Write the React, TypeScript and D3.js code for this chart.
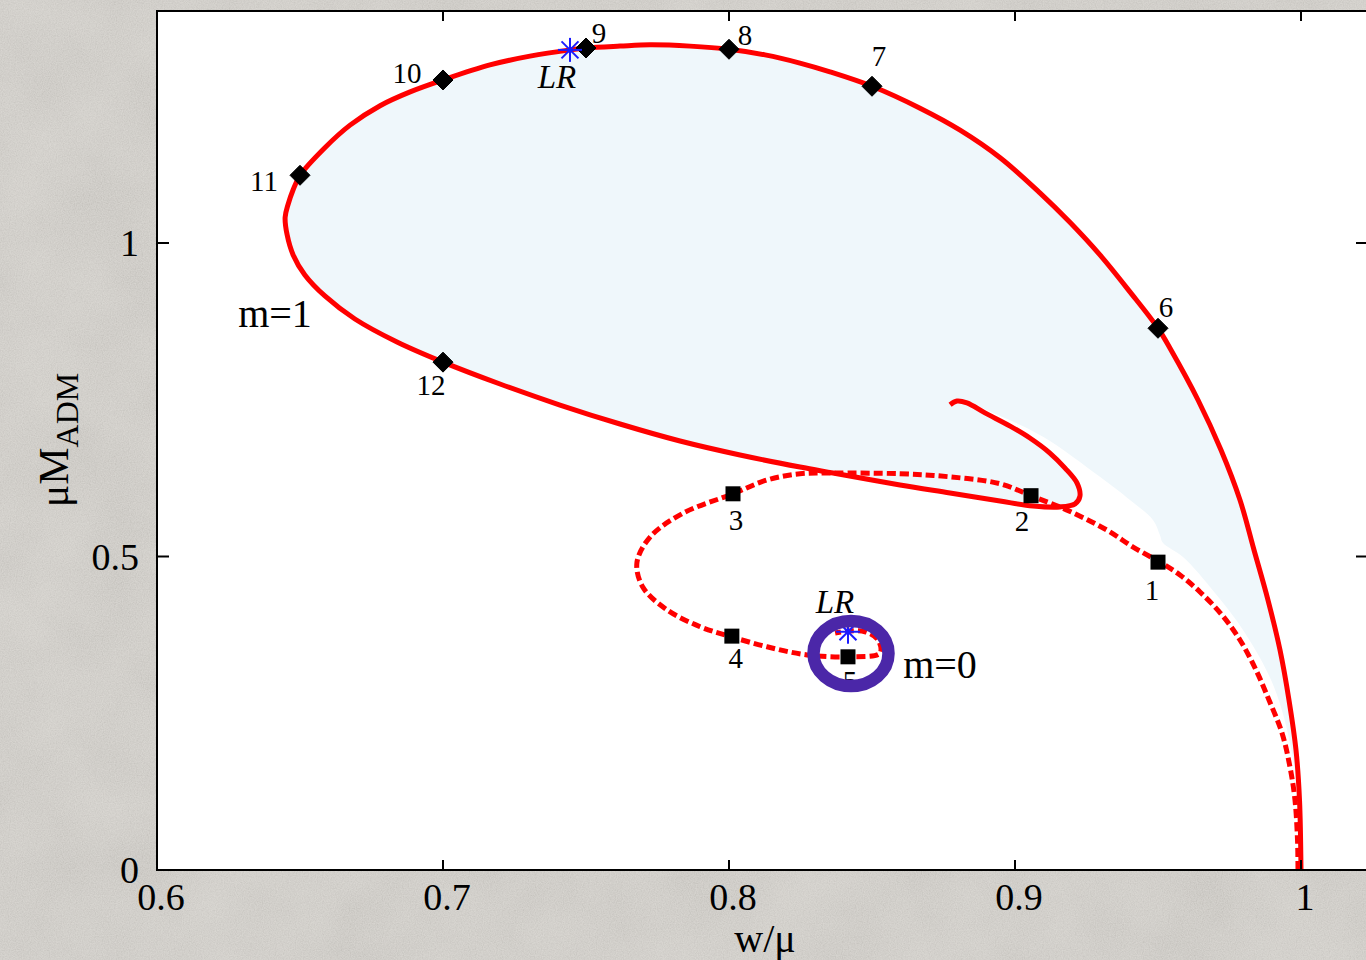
import React from "react";
import * as d3 from "d3";

// ---- data (w/mu, mu*M_ADM) ----
const xTicks = [0.6, 0.7, 0.8, 0.9, 1];
const xTickLabels = ["0.6", "0.7", "0.8", "0.9", "1"];
const yTicks = [0, 0.5, 1];
const yTickLabels = ["0", "0.5", "1"];

// m = 1 branch (solid)
const m1W = [
  1.0, 0.99948, 0.99825, 0.9958, 0.99266, 0.98846, 0.98357, 0.97867, 0.97203, 0.96399, 0.95455,
  0.95, 0.9402, 0.9297, 0.9192, 0.9087, 0.8948, 0.8808, 0.8668,
  0.85, 0.8353, 0.8248, 0.8126, 0.8, 0.7864, 0.7724, 0.7619, 0.75, 0.7444, 0.7304, 0.7164,
  0.7, 0.6885, 0.678, 0.6675, 0.6587, 0.65, 0.6476, 0.6458, 0.6448, 0.6455, 0.6476, 0.6517,
  0.6587, 0.6692, 0.68392, 0.7, 0.71993, 0.74091, 0.76189, 0.78287, 0.80385, 0.82483, 0.83636,
  0.85979, 0.87727, 0.89476, 0.90629, 0.9157, 0.921, 0.9227, 0.9217, 0.9175, 0.9122, 0.9052,
  0.8983, 0.8895, 0.8832, 0.8797, 0.8773,
];
const m1M = [
  0.0, 0.1116, 0.1914, 0.2711, 0.3509, 0.4306, 0.5104, 0.5901, 0.6699, 0.7496, 0.8293,
  0.864, 0.922, 0.981, 1.033, 1.08, 1.136, 1.18, 1.215,
  1.25, 1.273, 1.287, 1.3, 1.309, 1.314, 1.316, 1.314, 1.311, 1.308, 1.298, 1.284,
  1.26, 1.241, 1.219, 1.188, 1.152, 1.108, 1.085, 1.061, 1.041, 1.013, 0.981, 0.949,
  0.9155, 0.8788, 0.8421, 0.81, 0.7751, 0.7416, 0.7113, 0.6842, 0.6619, 0.6427, 0.6332,
  0.614, 0.6013, 0.5885, 0.5805, 0.579, 0.584, 0.596, 0.617, 0.641, 0.665, 0.689,
  0.708, 0.729, 0.745, 0.748, 0.742,
];

// outer edge of the shaded band, from the end of the m=1 spiral back to (1, 0)
const bandW = [
  0.8808, 0.8948, 0.9098, 0.9297, 0.9402, 0.9483, 0.9507, 0.9517, 0.95874, 0.96993,
  0.98042, 0.99056, 0.99685, 0.9993, 1.0,
];
const bandM = [
  0.748, 0.724, 0.691, 0.627, 0.59, 0.558, 0.534, 0.522, 0.4992, 0.4418,
  0.378, 0.2919, 0.1866, 0.0797, 0.0,
];

// m = 0 branch (dashed)
const m0W = [
  0.99895, 0.99878, 0.9979, 0.99615, 0.99336, 0.98881, 0.98427, 0.97867, 0.97238, 0.96469,
  0.95769, 0.95, 0.9413, 0.9322, 0.9182, 0.9056, 0.8948, 0.8773, 0.8598, 0.8364, 0.8248,
  0.8133, 0.8014, 0.7839, 0.7724, 0.7678, 0.7699, 0.7783, 0.7899, 0.8, 0.8133, 0.8273,
  0.8416, 0.8528, 0.8521, 0.8476, 0.8416, 0.8371,
];
const m0M = [
  0.0, 0.0478, 0.1116, 0.1643, 0.2185, 0.2711, 0.319, 0.3668, 0.4067, 0.4434,
  0.4705, 0.4928, 0.515, 0.542, 0.574, 0.597, 0.616, 0.627, 0.632, 0.633, 0.632,
  0.622, 0.6, 0.569, 0.531, 0.49, 0.451, 0.415, 0.388, 0.373, 0.356, 0.343,
  0.34, 0.346, 0.367, 0.38, 0.381, 0.378,
];

// numbered solutions
const m1PtLabels = ["6", "7", "8", "9", "10", "11", "12"];
const m1PtW = [0.95, 0.85, 0.8, 0.75, 0.7, 0.65, 0.7];
const m1PtM = [0.864, 1.25, 1.309, 1.311, 1.26, 1.108, 0.81];
const m0PtLabels = ["1", "2", "3", "4", "5"];
const m0PtW = [0.95, 0.9056, 0.8014, 0.801, 0.8416];
const m0PtM = [0.491, 0.597, 0.6, 0.373, 0.34];

// light-ring markers
const lrW = [0.7444, 0.8416];
const lrM = [1.308, 0.38];

const W = 1366;
const H = 960;
const plot = { left: 157, right: 1368, top: 11, bottom: 870 };

const x = d3.scaleLinear().domain([0.6, 0.6 + (plot.right - plot.left) / 2860]).range([plot.left, plot.right]);
const y = d3.scaleLinear().domain([0, (plot.bottom - plot.top) / 627]).range([plot.bottom, plot.top]);

const zip = (a: number[], b: number[]) => a.map((v, i) => [v, b[i]] as [number, number]);

const line = d3
  .line<[number, number]>()
  .x((d) => x(d[0]))
  .y((d) => y(d[1]))
  .curve(d3.curveCatmullRom.alpha(0.5));

const m1 = zip(m1W, m1M);
const m0 = zip(m0W, m0M);
const band = m1.concat(zip(bandW, bandM));

const serif = "'Liberation Serif', 'DejaVu Serif', serif";

function Diamond({ cx, cy }: { cx: number; cy: number }) {
  const r = 10;
  return <path d={`M${cx},${cy - r}L${cx + r},${cy}L${cx},${cy + r}L${cx - r},${cy}Z`} fill="#000" stroke="#000" strokeWidth={1} strokeLinejoin="round" />;
}

function Star({ cx, cy }: { cx: number; cy: number }) {
  const r = 12;
  const angles = [0, 45, 90, 135];
  return (
    <g stroke="#1a1aff" strokeWidth={2}>
      {angles.map((a) => {
        const t = (a * Math.PI) / 180;
        return (
          <line key={a} x1={cx - r * Math.cos(t)} y1={cy - r * Math.sin(t)} x2={cx + r * Math.cos(t)} y2={cy + r * Math.sin(t)} />
        );
      })}
    </g>
  );
}

// label offsets relative to each marker (label centre, baseline), in px
const m1LabelDx = [8, 7, 16, 13, -36, -36, -12];
const m1LabelDy = [-11, -20, -4, -5, 3, 16, 33];
const m0LabelDx = [-6, -9, 3, 4, 2];
const m0LabelDy = [38, 35, 36, 32, 34];

export default function App() {
  return (
    <svg
      width={W}
      height={H}
      style={{ position: "absolute", left: 0, top: 0, display: "block" }}
      fontFamily={serif}
    >
      <defs>
        <filter id="grain" x="0" y="0" width="100%" height="100%">
          <feTurbulence type="fractalNoise" baseFrequency="0.85" numOctaves={2} seed={3} result="fine" />
          <feColorMatrix in="fine" type="matrix" values="1 0 0 0 0  1 0 0 0 0  1 0 0 0 0  0 0 0 0 0.13" result="fineA" />
          <feTurbulence type="fractalNoise" baseFrequency="0.012" numOctaves={3} seed={7} result="coarse" />
          <feColorMatrix in="coarse" type="matrix" values="1 0 0 0 0  1 0 0 0 0  1 0 0 0 0  0 0 0 0 0.08" result="coarseA" />
          <feMerge>
            <feMergeNode in="coarseA" />
            <feMergeNode in="fineA" />
          </feMerge>
        </filter>
        <clipPath id="plotClip">
          <rect x={plot.left} y={plot.top} width={plot.right - plot.left} height={plot.bottom - plot.top} />
        </clipPath>
      </defs>

      {/* paper backdrop */}
      <rect width={W} height={H} fill="#d7d4ce" />
      <rect width={W} height={H} fill="#fff" filter="url(#grain)" />

      {/* plot area */}
      <rect x={plot.left} y={plot.top} width={plot.right - plot.left} height={plot.bottom - plot.top} fill="#fff" />

      <g clipPath="url(#plotClip)">
        <path d={line(band) ?? ""} fill="#eff7fb" stroke="none" />
        <path d={line(m0) ?? ""} fill="none" stroke="#ff0000" strokeWidth={5} strokeDasharray="9,4" />
        <path d={line(m1) ?? ""} fill="none" stroke="#ff0000" strokeWidth={5} strokeLinejoin="round" />

        {m1PtW.map((w, i) => (
          <Diamond key={"d" + i} cx={x(w)} cy={y(m1PtM[i])} />
        ))}
        {m0PtW.map((w, i) => (
          <rect key={"s" + i} x={x(w) - 7.5} y={y(m0PtM[i]) - 7.5} width={15} height={15} fill="#000" />
        ))}

        {m1PtLabels.map((t, i) => (
          <text key={"l1" + i} x={x(m1PtW[i]) + m1LabelDx[i]} y={y(m1PtM[i]) + m1LabelDy[i]} fontSize={29} fill="#000" textAnchor="middle">
            {t}
          </text>
        ))}
        {m0PtLabels.map((t, i) => (
          <text key={"l0" + i} x={x(m0PtW[i]) + m0LabelDx[i]} y={y(m0PtM[i]) + m0LabelDy[i]} fontSize={29} fill="#000" textAnchor="middle">
            {t}
          </text>
        ))}

        {lrW.map((w, i) => (
          <Star key={"st" + i} cx={x(w)} cy={y(lrM[i])} />
        ))}
        <text x={x(lrW[0]) - 13} y={y(lrM[0]) + 38} fontSize={33} fontStyle="italic" textAnchor="middle">LR</text>
        <text x={x(lrW[1]) - 13} y={y(lrM[1]) - 19} fontSize={33} fontStyle="italic" textAnchor="middle">LR</text>

        {/* highlight ring round the m=0 light ring */}
        <ellipse cx={x(0.84266)} cy={y(0.3453)} rx={37.5} ry={32.5} fill="none" stroke="#4b27a8" strokeWidth={12.5} />

        <text x={275} y={327} fontSize={40} textAnchor="middle">m=1</text>
        <text x={940} y={678} fontSize={40} textAnchor="middle">m=0</text>
      </g>

      {/* frame */}
      <rect x={plot.left} y={plot.top} width={plot.right - plot.left} height={plot.bottom - plot.top} fill="none" stroke="#000" strokeWidth={2} />

      {/* ticks */}
      <g stroke="#000" strokeWidth={2}>
        {xTicks.map((t) => (
          <g key={"xt" + t}>
            <line x1={x(t)} x2={x(t)} y1={plot.bottom} y2={plot.bottom - 10} />
            <line x1={x(t)} x2={x(t)} y1={plot.top} y2={plot.top + 10} />
          </g>
        ))}
        {yTicks.map((t) => (
          <g key={"yt" + t}>
            <line x1={plot.left} x2={plot.left + 12} y1={y(t)} y2={y(t)} />
            <line x1={plot.right} x2={plot.right - 12} y1={y(t)} y2={y(t)} />
          </g>
        ))}
      </g>

      {/* tick labels */}
      {xTicks.map((t, i) => (
        <text key={"xl" + t} x={x(t) + 4} y={910} fontSize={38} textAnchor="middle" fill="#000">
          {xTickLabels[i]}
        </text>
      ))}
      {yTicks.map((t, i) => (
        <text key={"yl" + t} x={139} y={y(t) + 13} fontSize={38} textAnchor="end" fill="#000">
          {yTickLabels[i]}
        </text>
      ))}

      {/* axis titles */}
      <text x={765} y={952} fontSize={40} textAnchor="middle" fill="#000">w/μ</text>
      <text transform="translate(68,440) rotate(-90)" fontSize={42} textAnchor="middle" fill="#000">
        μM<tspan fontSize={32} dy={10}>ADM</tspan>
      </text>
    </svg>
  );
}
